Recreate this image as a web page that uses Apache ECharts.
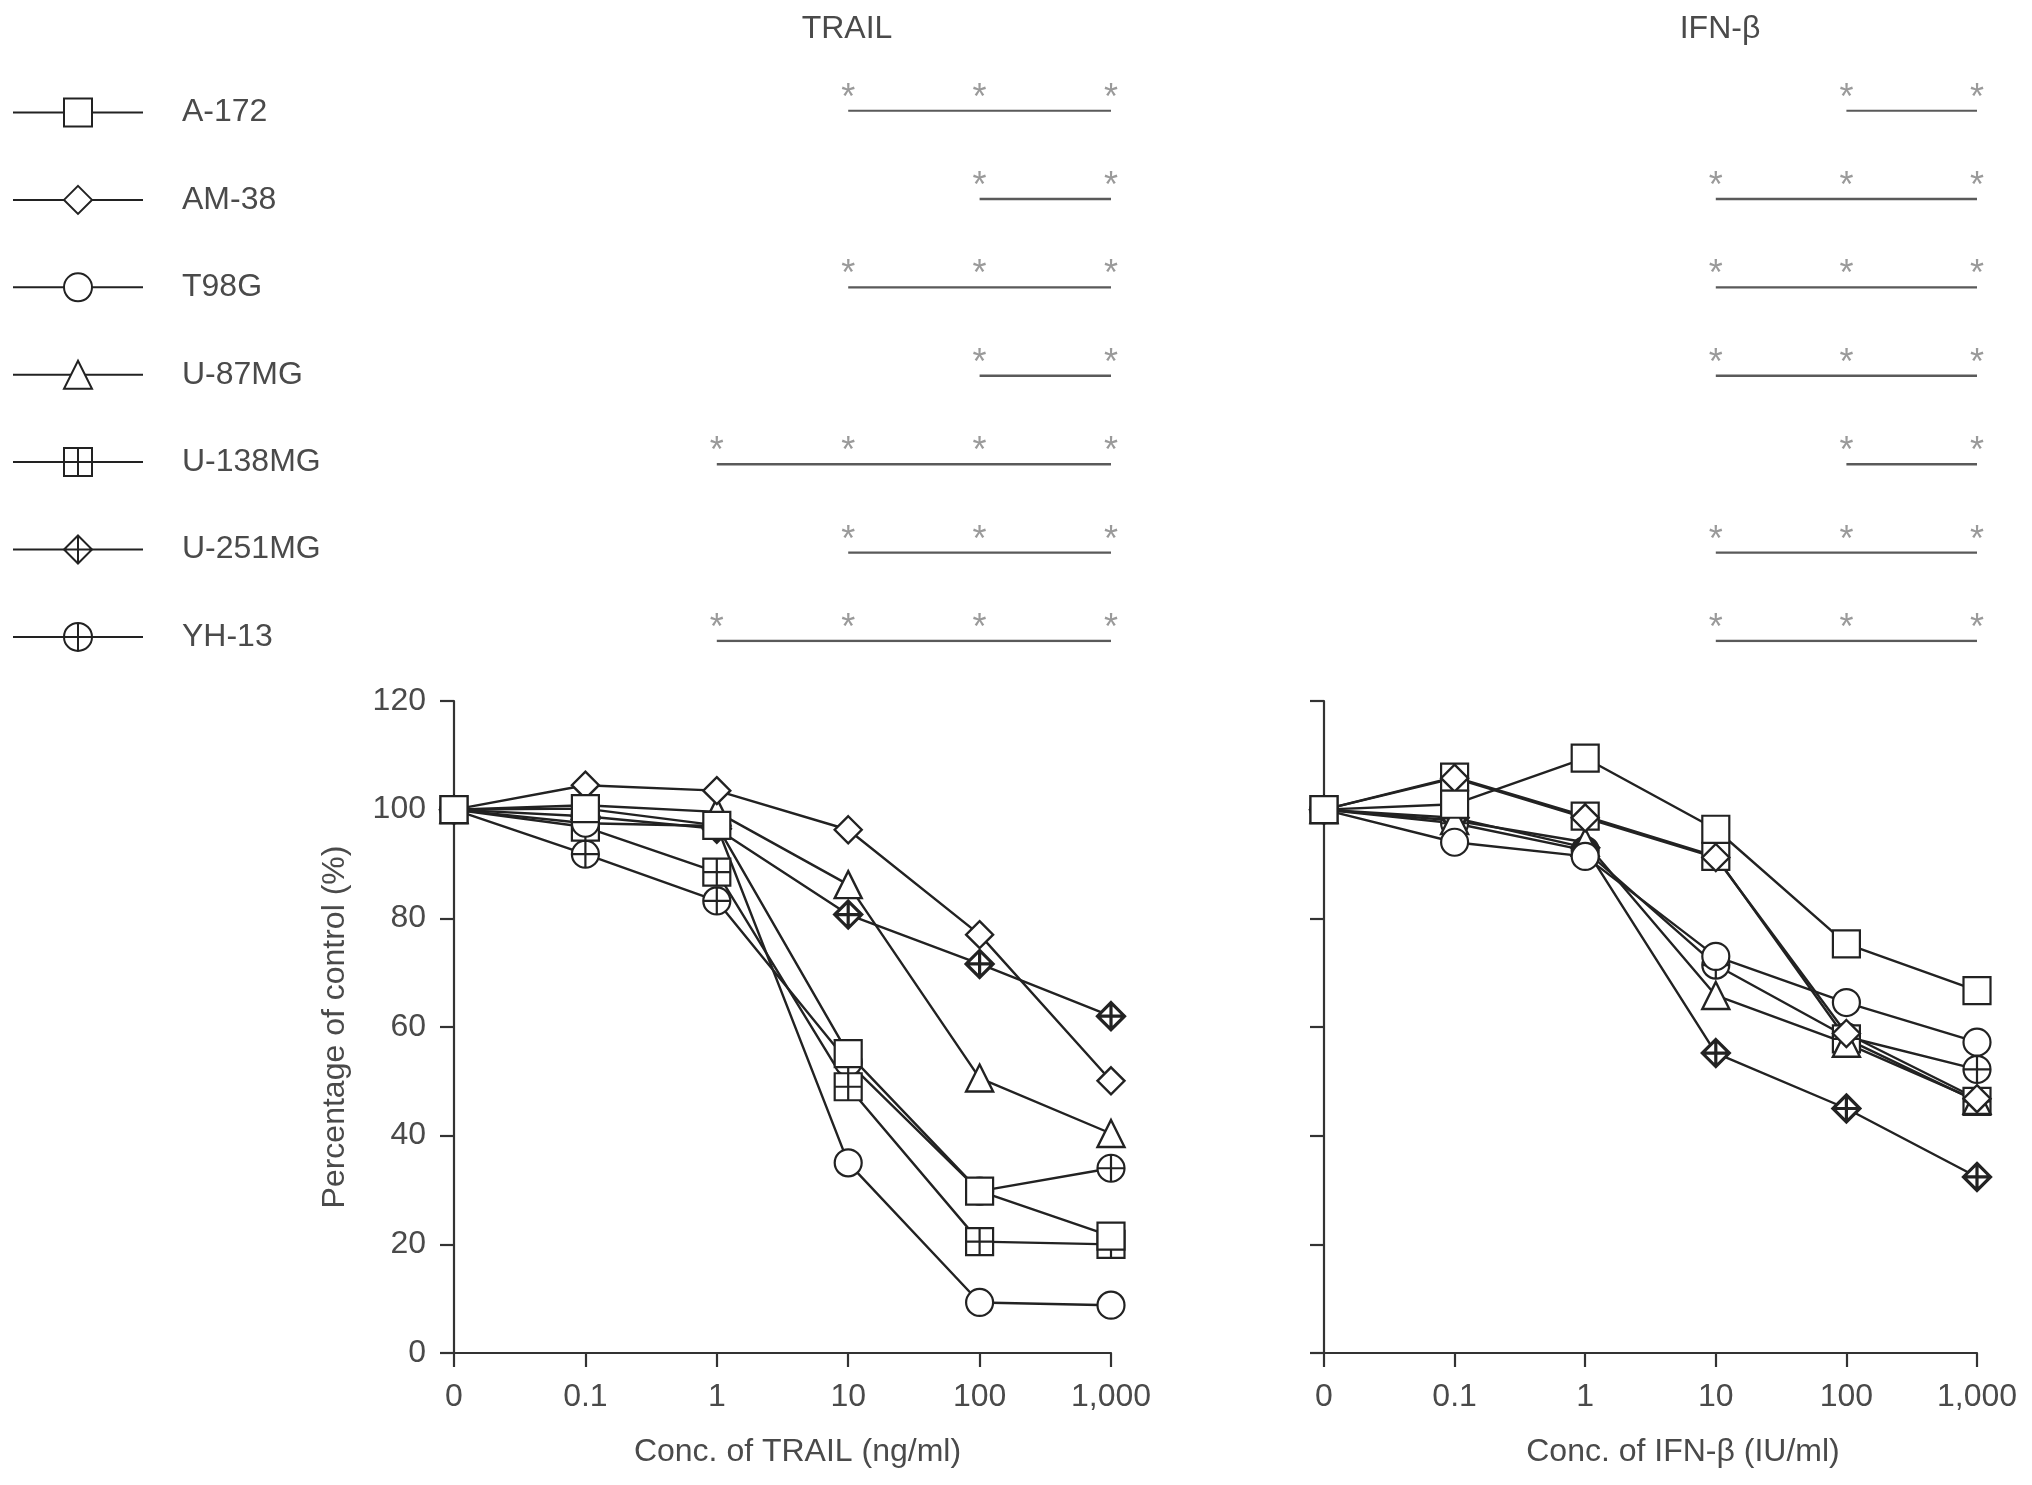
<!DOCTYPE html>
<html><head><meta charset="utf-8">
<script src="https://cdn.jsdelivr.net/npm/echarts@6/dist/echarts.min.js"></script>
<style>html,body{margin:0;padding:0;background:#fff}#c{width:2032px;height:1485px}</style>
</head><body><div id="c"></div><script>
// ---- data ----
const concLabels = ['0', '0.1', '1', '10', '100', '1,000'];
const cellLines = ['A-172', 'AM-38', 'T98G', 'U-87MG', 'U-138MG', 'U-251MG', 'YH-13'];

const trailA172   = [100, 100.2, 97.1, 55.1, 29.8, 21.5];
const trailAM38   = [100, 104.5, 103.5, 96.3, 77.0, 50.1];
const trailT98G   = [100, 97.5, 97.0, 35.0, 9.3, 8.8];
const trailU87MG  = [100, 100.8, 99.6, 86.2, 50.6, 40.4];
const trailU138MG = [100, 96.8, 88.5, 49.0, 20.5, 20.0];
const trailU251MG = [100, 98.8, 96.5, 80.7, 71.6, 62.0];
const trailYH13   = [100, 91.8, 83.2, 53.5, 29.8, 34.0];

const ifnA172   = [100, 101.0, 109.5, 96.4, 75.3, 66.7];
const ifnAM38   = [100, 105.8, 98.5, 91.2, 58.8, 46.8];
const ifnT98G   = [100, 94.0, 91.4, 73.0, 64.5, 57.2];
const ifnU87MG  = [100, 98.0, 94.0, 65.8, 57.0, 46.5];
const ifnU138MG = [100, 106.0, 98.8, 91.4, 57.8, 46.3];
const ifnU251MG = [100, 98.5, 93.0, 55.2, 45.0, 32.4];
const ifnYH13   = [100, 97.5, 92.5, 71.4, 58.2, 52.2];

// significance flags (1 = *), one row per cell line, columns = concentrations
const trailSig = [
  [0, 0, 0, 1, 1, 1],
  [0, 0, 0, 0, 1, 1],
  [0, 0, 0, 1, 1, 1],
  [0, 0, 0, 0, 1, 1],
  [0, 0, 1, 1, 1, 1],
  [0, 0, 0, 1, 1, 1],
  [0, 0, 1, 1, 1, 1]
];
const ifnSig = [
  [0, 0, 0, 0, 1, 1],
  [0, 0, 0, 1, 1, 1],
  [0, 0, 0, 1, 1, 1],
  [0, 0, 0, 1, 1, 1],
  [0, 0, 0, 0, 1, 1],
  [0, 0, 0, 1, 1, 1],
  [0, 0, 0, 1, 1, 1]
];

const trailData = [trailA172, trailAM38, trailT98G, trailU87MG, trailU138MG, trailU251MG, trailYH13];
const ifnData = [ifnA172, ifnAM38, ifnT98G, ifnU87MG, ifnU138MG, ifnU251MG, ifnYH13];

// ---- styles ----
const FONT = 'Liberation Sans, Arial, Helvetica, sans-serif';
const TXT = '#4a4a4a';
const INK = '#222';
const symbols = [
  'rect',
  'diamond',
  'circle',
  'triangle',
  'path://M0,0 L20,0 L20,20 L0,20 Z M10,0 L10,20 M0,10 L20,10',
  'path://M10,0 L20,10 L10,20 L0,10 Z M10,0 L10,20 M0,10 L20,10',
  'path://M20,10 A10,10 0 1 1 0,10 A10,10 0 1 1 20,10 Z M10,0 L10,20 M0,10 L20,10'
];
const borderW = [2.2, 2.4, 2.2, 2.4, 2.2, 3.2, 2.2];

const grids = [
  { left: 454, width: 657, top: 701, height: 652 },
  { left: 1324, width: 653, top: 701, height: 652 },
  { left: 454, width: 657, top: 110.6, height: 530.4 },
  { left: 1324, width: 653, top: 110.6, height: 530.4 }
];

function xAx(gi, name, pad) {
  return {
    type: 'category', gridIndex: gi, data: concLabels, boundaryGap: false,
    axisLine: { show: true, lineStyle: { color: '#333', width: 2.2 } },
    axisTick: { show: true, alignWithLabel: true, length: 14, lineStyle: { color: '#333', width: 2.2 } },
    axisLabel: { color: TXT, fontSize: 32, fontFamily: FONT, margin: 28, interval: 0 },
    splitLine: { show: false },
    name: name, nameLocation: 'middle', nameGap: 83,
    nameTextStyle: { color: TXT, fontSize: 32, fontFamily: FONT, padding: pad }
  };
}
function yAx(gi, showLabel, name) {
  return {
    type: 'value', gridIndex: gi, min: 0, max: 120, interval: 20,
    axisLine: { show: true, lineStyle: { color: '#333', width: 2.2 } },
    axisTick: { show: true, length: 14, lineStyle: { color: '#333', width: 2.2 } },
    axisLabel: { show: showLabel, color: TXT, fontSize: 32, fontFamily: FONT, margin: 28 },
    splitLine: { show: false },
    name: name || '', nameLocation: 'middle', nameGap: 103, nameRotate: 90,
    nameTextStyle: { color: TXT, fontSize: 32, fontFamily: FONT }
  };
}
const xAxes = [
  xAx(0, 'Conc. of TRAIL (ng/ml)', [0, 0, 0, 30]),
  xAx(1, 'Conc. of IFN-\u03b2 (IU/ml)', [0, 0, 0, 65]),
  { type: 'category', gridIndex: 2, data: concLabels, boundaryGap: false, show: false },
  { type: 'category', gridIndex: 3, data: concLabels, boundaryGap: false, show: false }
];
const yAxes = [
  yAx(0, true, 'Percentage of control (%)'),
  yAx(1, false),
  { type: 'value', gridIndex: 2, min: 0, max: 6, inverse: true, show: false },
  { type: 'value', gridIndex: 3, min: 0, max: 6, inverse: true, show: false }
];

const series = [];
// main curves, drawn in reverse order so A-172 is on top
for (let panel = 0; panel < 2; panel++) {
  const src = panel === 0 ? trailData : ifnData;
  for (let i = cellLines.length - 1; i >= 0; i--) {
    series.push({
      type: 'line', name: cellLines[i], xAxisIndex: panel, yAxisIndex: panel,
      data: src[i], symbol: symbols[i], symbolSize: 27, showSymbol: true,
      lineStyle: { color: INK, width: 2.4 },
      itemStyle: { color: '#fff', borderColor: INK, borderWidth: borderW[i] },
      emphasis: { disabled: true }, z: 3
    });
  }
}
// significance rows
for (let panel = 0; panel < 2; panel++) {
  const sig = panel === 0 ? trailSig : ifnSig;
  for (let i = 0; i < cellLines.length; i++) {
    series.push({
      type: 'line', name: 'sig-' + panel + '-' + cellLines[i],
      xAxisIndex: panel + 2, yAxisIndex: panel + 2,
      data: sig[i].map(f => (f ? i : null)),
      symbol: 'circle', symbolSize: 1, showSymbol: true,
      lineStyle: { color: '#5a5a5a', width: 2.4 },
      itemStyle: { color: 'rgba(0,0,0,0)', borderWidth: 0 },
      label: { show: true, formatter: '*', position: 'inside', offset: [0, -12],
               color: '#9a9a9a', fontSize: 36, fontFamily: FONT },
      emphasis: { disabled: true }
    });
  }
}

const chart = echarts.init(document.getElementById('c'), null, { renderer: 'canvas' });
chart.setOption({
  animation: false,
  backgroundColor: '#fff',
  grid: grids,
  xAxis: xAxes,
  yAxis: yAxes,
  legend: {
    data: cellLines, orient: 'vertical', left: 7, top: 91.5,
    itemWidth: 130, itemHeight: 35, itemGap: 55.4,
    textStyle: { color: TXT, fontSize: 32, fontFamily: FONT, padding: [0, 0, 0, 34] },
    selectedMode: false
  },
  graphic: [
    { type: 'text', x: 847, y: 29, style: { text: 'TRAIL', align: 'center', verticalAlign: 'middle', fill: TXT, font: '32px ' + FONT } },
    { type: 'text', x: 1720, y: 29, style: { text: 'IFN-\u03b2', align: 'center', verticalAlign: 'middle', fill: TXT, font: '32px ' + FONT } }
  ],
  series: series
});
</script></body></html>
